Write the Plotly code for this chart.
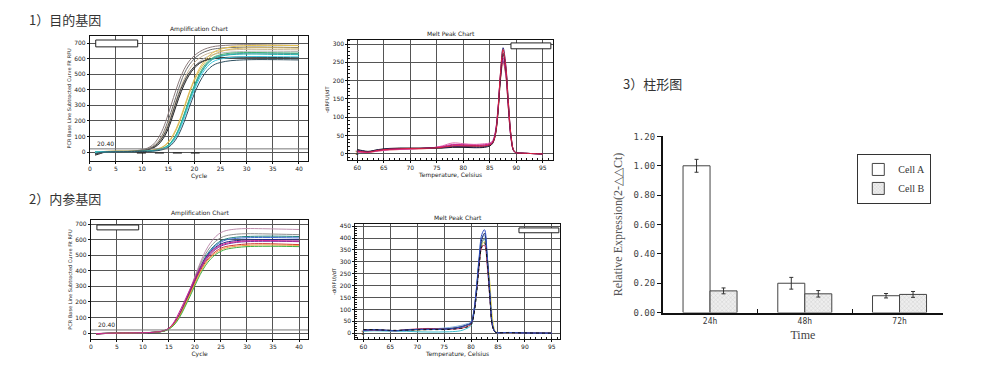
import plotly.graph_objects as go

# ---------------- data ----------------
# Panel 1: target gene amplification (cycle vs RFU)
AMP1_CYCLES = [1, 2, 3, 5, 8, 10, 11, 12, 13, 14, 15, 16, 17, 18, 19, 20, 21, 22, 23, 24, 26, 28, 31, 35, 40]
AMP1_GREY_A = [-5, 0, 3, 5, 6, 15, 25, 45, 85, 150, 245, 350, 450, 530, 585, 620, 645, 662, 673, 680, 686, 689, 690, 688, 686]
AMP1_GREY_B = [-8, -2, 2, 4, 5, 12, 20, 35, 65, 120, 205, 305, 410, 500, 560, 600, 628, 645, 657, 664, 670, 673, 675, 674, 672]
AMP1_BLACK_A = [-20, -10, 0, 3, 4, 8, 14, 25, 45, 85, 150, 245, 345, 430, 495, 540, 570, 588, 598, 603, 608, 610, 610, 608, 606]
AMP1_BLACK_B = [-15, -5, 2, 3, 4, 9, 16, 30, 55, 100, 170, 270, 370, 450, 510, 550, 575, 590, 597, 601, 604, 605, 605, 603, 600]
AMP1_YELLOW_A = [0, 2, 4, 5, 5, 6, 8, 12, 20, 35, 65, 115, 190, 285, 385, 470, 540, 590, 625, 648, 670, 680, 685, 686, 684]
AMP1_YELLOW_B = [0, 2, 4, 5, 5, 6, 8, 12, 20, 33, 60, 108, 180, 275, 375, 460, 525, 575, 610, 632, 655, 665, 670, 670, 668]
AMP1_TAN = [0, 2, 3, 5, 6, 10, 18, 32, 60, 110, 185, 280, 380, 465, 530, 575, 605, 625, 638, 646, 654, 658, 660, 659, 657]
AMP1_LIGHT = [0, 1, 2, 4, 5, 8, 14, 25, 48, 90, 160, 255, 355, 440, 505, 550, 582, 605, 620, 630, 640, 645, 648, 648, 646]
AMP1_GREEN = [0, 1, 3, 4, 4, 5, 6, 9, 14, 25, 45, 85, 150, 240, 340, 430, 505, 560, 595, 615, 632, 638, 640, 638, 636]
AMP1_TEAL = [0, 1, 2, 3, 3, 4, 5, 8, 12, 22, 40, 78, 140, 228, 325, 415, 490, 545, 583, 605, 622, 628, 630, 628, 626]
AMP1_CYAN = [0, 1, 2, 3, 3, 4, 5, 7, 11, 20, 37, 72, 130, 215, 310, 400, 475, 530, 567, 588, 604, 611, 614, 613, 612]
AMP1_STEEL = [0, 1, 2, 3, 4, 5, 6, 8, 13, 24, 43, 82, 145, 235, 330, 420, 495, 550, 588, 610, 625, 632, 636, 635, 633]
AMP1_SLATE = [-10, -3, 1, 2, 3, 3, 4, 6, 9, 16, 30, 60, 112, 190, 285, 375, 450, 505, 543, 565, 583, 590, 594, 594, 592]
AMP1_NTC_X = [9, 21]
AMP1_NTC_Y = [-6, -6]

# Panel 2: target gene melt peak
MELT1_T = [60, 61, 62, 64, 66, 68, 70, 72, 74, 76, 78, 80, 82, 84, 85, 85.5, 86, 86.5, 87, 87.5, 88, 88.5, 89, 89.5, 90, 91, 93, 95]
MELT1_RED = [8, 6, 5, 10, 13, 14, 15, 15, 16, 18, 22, 22, 22, 22, 25, 30, 50, 110, 220, 285, 240, 140, 50, 10, 3, 2, 1, 0]
MELT1_PINK = [5, 4, 4, 8, 11, 12, 13, 14, 16, 22, 30, 28, 26, 28, 30, 36, 58, 120, 215, 270, 230, 130, 45, 8, 3, 2, 1, 0]
MELT1_MAGENTA = [6, 5, 5, 9, 12, 13, 14, 15, 17, 20, 26, 25, 24, 25, 28, 33, 55, 115, 210, 262, 225, 128, 44, 9, 3, 2, 1, 0]
MELT1_BLACK = [12, 9, 7, 12, 15, 16, 16, 16, 16, 16, 18, 18, 17, 18, 22, 28, 48, 105, 205, 275, 235, 135, 48, 9, 3, 2, 1, 0]
MELT1_NAVY = [10, 8, 6, 11, 14, 15, 15, 15, 16, 17, 20, 20, 19, 20, 24, 30, 52, 112, 218, 290, 245, 142, 50, 10, 3, 2, 1, 0]
MELT1_PURPLE = [7, 6, 5, 9, 12, 13, 14, 15, 17, 19, 24, 24, 23, 24, 27, 32, 54, 112, 208, 255, 220, 125, 42, 8, 3, 2, 1, 0]
MELT1_ORANGE = [6, 5, 4, 8, 11, 12, 13, 14, 15, 17, 21, 21, 20, 21, 24, 30, 50, 108, 200, 250, 215, 122, 42, 8, 3, 2, 1, 0]

# Panel 3: reference gene amplification
AMP2_CYCLES = [1, 3, 5, 8, 10, 12, 13, 14, 15, 16, 17, 18, 19, 20, 21, 22, 23, 24, 25, 26, 28, 30, 33, 36, 40]
AMP2_MAUVE = [-5, -2, 0, 2, 3, 5, 8, 14, 30, 65, 120, 195, 275, 365, 450, 525, 580, 620, 645, 658, 668, 671, 670, 668, 665]
AMP2_GREY = [-5, -2, 0, 2, 3, 5, 8, 14, 29, 63, 118, 190, 268, 355, 438, 505, 555, 590, 612, 625, 635, 638, 637, 635, 632]
AMP2_TEAL = [-4, -1, 0, 2, 3, 5, 8, 14, 28, 60, 112, 182, 258, 340, 420, 488, 535, 570, 592, 605, 616, 620, 622, 622, 620]
AMP2_BLUE = [-4, -1, 0, 2, 3, 5, 8, 14, 28, 60, 110, 180, 255, 335, 415, 480, 528, 562, 584, 598, 608, 612, 614, 613, 611]
AMP2_NAVY = [-6, -2, 0, 2, 3, 5, 8, 14, 28, 62, 115, 186, 262, 342, 418, 478, 522, 552, 572, 584, 594, 598, 600, 600, 598]
AMP2_MAGENTA = [-3, -1, 0, 2, 3, 5, 9, 16, 32, 72, 135, 205, 278, 352, 420, 475, 515, 545, 564, 576, 587, 592, 594, 593, 590]
AMP2_PURPLE = [-4, -1, 0, 2, 3, 5, 8, 14, 29, 64, 120, 190, 262, 338, 408, 465, 508, 538, 558, 570, 582, 587, 589, 589, 587]
AMP2_RED = [-6, -2, 0, 2, 3, 5, 8, 14, 28, 60, 112, 180, 252, 328, 398, 455, 495, 525, 545, 556, 566, 572, 574, 572, 568]
AMP2_ORANGE = [-3, -1, 0, 2, 3, 5, 8, 13, 27, 57, 106, 172, 244, 318, 388, 445, 487, 515, 535, 547, 558, 563, 566, 565, 563]
AMP2_GREEN = [-4, -1, 0, 2, 3, 5, 7, 12, 25, 52, 98, 162, 232, 305, 375, 432, 475, 505, 525, 538, 549, 555, 557, 557, 555]

# Panel 4: reference gene melt peak
MELT2_T = [60, 62, 64, 66, 68, 70, 72, 74, 76, 78, 79, 80, 80.5, 81, 81.5, 82, 82.5, 83, 83.5, 84, 84.5, 85, 87, 90, 95]
MELT2_BLUE = [12, 14, 12, 10, 13, 15, 15, 16, 18, 25, 32, 45, 90, 190, 320, 415, 435, 330, 170, 35, 5, 2, 3, 1, 0]
MELT2_NAVY = [14, 15, 13, 11, 14, 16, 17, 17, 19, 26, 33, 42, 85, 180, 305, 395, 420, 320, 160, 30, 4, 2, 3, 1, 0]
MELT2_LIGHTBLUE = [10, 12, 11, 10, 14, 16, 18, 20, 24, 32, 38, 48, 92, 185, 310, 400, 410, 300, 150, 28, 4, 2, 2, 1, 0]
MELT2_CYAN = [8, 10, 9, 8, 8, 6, 5, 5, 6, 10, 18, 32, 75, 165, 290, 380, 395, 300, 155, 30, 4, 2, 2, 1, 0]
MELT2_YELLOW = [10, 12, 11, 10, 12, 14, 15, 16, 18, 24, 30, 40, 80, 170, 290, 370, 385, 320, 210, 60, 8, 2, 2, 1, 0]
MELT2_GREY = [13, 14, 12, 11, 13, 15, 16, 17, 20, 27, 33, 44, 88, 182, 300, 380, 400, 305, 155, 30, 4, 2, 2, 1, 0]
MELT2_RED = [11, 13, 12, 10, 15, 18, 20, 18, 17, 20, 26, 38, 80, 170, 285, 360, 370, 285, 145, 27, 4, 2, 2, 1, 0]
MELT2_BLACK = [15, 15, 13, 12, 13, 14, 15, 15, 16, 20, 24, 35, 75, 160, 280, 365, 380, 300, 150, 28, 4, 2, 2, 1, 0]

# Panel 5: bar chart
BAR_CATEGORIES = ["24h", "48h", "72h"]
CELL_A = [1.00, 0.20, 0.115]
CELL_A_ERR = [0.044, 0.04, 0.015]
CELL_B = [0.148, 0.128, 0.124]
CELL_B_ERR = [0.02, 0.022, 0.02]
BAR_YTICKS = [0.0, 0.2, 0.4, 0.6, 0.8, 1.0, 1.2]
BAR_YTICK_LABELS = ["0.00", "0.20", "0.40", "0.60", "0.80", "1.00", "1.20"]

THRESHOLD = 20.40

# ---------------- figure ----------------
W, H = 1000, 377
fig = go.Figure()

def xd(a, b):
    return [a / W, b / W]

def yd(top, bottom):
    return [1 - bottom / H, 1 - top / H]

amp1 = [
    (AMP1_GREY_A, "#8c7b7b"), (AMP1_GREY_B, "#6e6e6e"), (AMP1_TAN, "#cbb89a"),
    (AMP1_LIGHT, "#b8b8b8"), (AMP1_YELLOW_A, "#e8c34a"), (AMP1_YELLOW_B, "#d4b35a"),
    (AMP1_BLACK_A, "#222222"), (AMP1_BLACK_B, "#444444"), (AMP1_STEEL, "#6a8caf"),
    (AMP1_GREEN, "#3cb371"), (AMP1_TEAL, "#20b2aa"), (AMP1_CYAN, "#40c8e0"),
    (AMP1_SLATE, "#2f4f5f"),
]
for vals, col in amp1:
    fig.add_trace(go.Scatter(x=AMP1_CYCLES, y=vals, mode="lines", line=dict(color=col, width=1, shape="spline"),
                             xaxis="x", yaxis="y", showlegend=False, hoverinfo="skip"))
fig.add_trace(go.Scatter(x=AMP1_NTC_X, y=AMP1_NTC_Y, mode="lines", line=dict(color="#111", width=1.2, dash="dash"),
                         xaxis="x", yaxis="y", showlegend=False))

melt1 = [
    (MELT1_ORANGE, "#e08040"), (MELT1_PURPLE, "#7030a0"), (MELT1_PINK, "#e070b0"),
    (MELT1_MAGENTA, "#d02090"), (MELT1_BLACK, "#111111"), (MELT1_NAVY, "#202070"),
    (MELT1_RED, "#e02040"),
]
for vals, col in melt1:
    fig.add_trace(go.Scatter(x=MELT1_T, y=vals, mode="lines", line=dict(color=col, width=1, shape="spline"),
                             xaxis="x2", yaxis="y2", showlegend=False))

amp2 = [
    (AMP2_MAUVE, "#c090b0"), (AMP2_GREY, "#909090"), (AMP2_TEAL, "#208080"),
    (AMP2_BLUE, "#4070d0"), (AMP2_NAVY, "#202080"), (AMP2_PURPLE, "#7030a0"),
    (AMP2_RED, "#d03030"), (AMP2_ORANGE, "#f0a040"), (AMP2_GREEN, "#40b040"),
    (AMP2_MAGENTA, "#d02090"),
]
for vals, col in amp2:
    fig.add_trace(go.Scatter(x=AMP2_CYCLES, y=vals, mode="lines", line=dict(color=col, width=1, shape="spline"),
                             xaxis="x3", yaxis="y3", showlegend=False))

melt2 = [
    (MELT2_YELLOW, "#e0d040"), (MELT2_CYAN, "#40c0d0"), (MELT2_LIGHTBLUE, "#80b0e0"),
    (MELT2_GREY, "#808080"), (MELT2_RED, "#c03060"), (MELT2_NAVY, "#102060"),
    (MELT2_BLUE, "#3050c0"),
]
for vals, col in melt2:
    fig.add_trace(go.Scatter(x=MELT2_T, y=vals, mode="lines", line=dict(color=col, width=1, shape="spline"),
                             xaxis="x4", yaxis="y4", showlegend=False))
fig.add_trace(go.Scatter(x=MELT2_T, y=MELT2_BLACK, mode="lines", line=dict(color="#111", width=1, dash="dot", shape="spline"),
                         xaxis="x4", yaxis="y4", showlegend=False))

# threshold lines
for xa, ya in (("x", "y"), ("x3", "y3")):
    fig.add_trace(go.Scatter(x=[0, 41.8], y=[THRESHOLD, THRESHOLD], mode="lines", line=dict(color="#777", width=1),
                             xaxis=xa, yaxis=ya, showlegend=False))

# bars
fig.add_trace(go.Bar(x=BAR_CATEGORIES, y=CELL_A, name="Cell A", xaxis="x5", yaxis="y5",
                     marker=dict(color="white", line=dict(color="#444", width=1)),
                     error_y=dict(type="data", array=CELL_A_ERR, color="#333", thickness=1, width=2)))
fig.add_trace(go.Bar(x=BAR_CATEGORIES, y=CELL_B, name="Cell B", xaxis="x5", yaxis="y5",
                     marker=dict(color="#e6e6e6", line=dict(color="#444", width=1),
                                 pattern=dict(shape="x", size=3, solidity=0.3, fgcolor="#b0b0b0", bgcolor="#eeeeee")),
                     error_y=dict(type="data", array=CELL_B_ERR, color="#333", thickness=1, width=2)))

small = dict(family="DejaVu Sans", size=6, color="#222")
grid_common = dict(showgrid=True, gridcolor="#555", gridwidth=1, showline=True, linecolor="#111", linewidth=1,
                   mirror=True, ticks="outside", ticklen=2, tickcolor="#111", tickfont=small, zeroline=False)

layout = dict(
    width=W, height=H, margin=dict(l=0, r=0, t=0, b=0),
    paper_bgcolor="white", plot_bgcolor="white",
    barmode="group", bargap=0.43, bargroupgap=0,
    xaxis=dict(domain=xd(88, 307), range=[0, 41.8], dtick=5, anchor="y", **grid_common,
               title=dict(text="Cycle", font=small, standoff=1)),
    yaxis=dict(domain=yd(32, 160), range=[-56, 745], dtick=100, anchor="x", **grid_common,
               title=dict(text="PCR Base Line Subtracted Curve Fit RFU", font=dict(family="DejaVu Sans", size=5, color="#222"), standoff=2)),
    xaxis2=dict(domain=xd(347, 552), range=[58.3, 96.9], tick0=60, dtick=5, anchor="y2", **grid_common,
                minor=dict(ticks="inside", ticklen=2, dtick=1, tickcolor="#111", showgrid=False),
                title=dict(text="Temperature, Celsius", font=small, standoff=1)),
    yaxis2=dict(domain=yd(36, 159), range=[-16, 311], dtick=50, anchor="x2", **grid_common,
                minor=dict(ticks="inside", ticklen=2, dtick=10, tickcolor="#111", showgrid=False),
                title=dict(text="-d(RFU)/dT", font=dict(family="DejaVu Sans", size=5, color="#222"), standoff=2)),
    xaxis3=dict(domain=xd(89, 307), range=[0, 41.8], dtick=5, anchor="y3", **grid_common,
                title=dict(text="Cycle", font=small, standoff=1)),
    yaxis3=dict(domain=yd(221, 343), range=[-37, 725], dtick=100, anchor="x3", **grid_common,
                title=dict(text="PCR Base Line Subtracted Curve Fit RFU", font=dict(family="DejaVu Sans", size=5, color="#222"), standoff=2)),
    xaxis4=dict(domain=xd(354, 559), range=[58.5, 96.5], tick0=60, dtick=5, anchor="y4", **grid_common,
                minor=dict(ticks="inside", ticklen=2, dtick=1, tickcolor="#111", showgrid=False),
                title=dict(text="Temperature, Celsius", font=small, standoff=1)),
    yaxis4=dict(domain=yd(225, 343), range=[-24, 459], dtick=50, anchor="x4", **grid_common,
                minor=dict(ticks="inside", ticklen=2, dtick=10, tickcolor="#111", showgrid=False),
                title=dict(text="-d(RFU)/dT", font=dict(family="DejaVu Sans", size=5, color="#222"), standoff=2)),
    xaxis5=dict(domain=xd(662, 943), range=[-0.5, 2.46], anchor="y5", type="category",
                showline=True, linecolor="#111", linewidth=1.5, ticks="inside", tickson="boundaries", ticklen=4,
                tickcolor="#111", showgrid=False,
                tickfont=dict(family="DejaVu Sans Mono", size=8, color="#333"),
                title=dict(text="Time", font=dict(family="Liberation Serif", size=12, color="#444"), standoff=6)),
    yaxis5=dict(domain=yd(135, 316), range=[0, 1.2], anchor="x5", tickvals=BAR_YTICKS, ticktext=BAR_YTICK_LABELS,
                showline=True, linecolor="#111", linewidth=1.5, ticks="outside", ticklen=4, tickcolor="#111",
                showgrid=False, zeroline=False,
                tickfont=dict(family="DejaVu Sans Mono", size=9, color="#444"),
                title=dict(text="Relative Expression(2-△△Ct)", font=dict(family="Liberation Serif", size=12, color="#555"), standoff=8)),
    legend=dict(x=857 / W, y=1 - 153 / H, xanchor="left", yanchor="top", bordercolor="#333", borderwidth=1,
                bgcolor="white", font=dict(family="Liberation Serif", size=10, color="#333"),
                itemwidth=30, tracegroupgap=0),
)
fig.update_layout(**layout)

ann = []
for xa, ya, txt in (("x", "y", "Amplification Chart"), ("x2", "y2", "Melt Peak Chart"),
                    ("x3", "y3", "Amplification Chart"), ("x4", "y4", "Melt Peak Chart")):
    ann.append(dict(xref=xa + " domain", yref=ya + " domain", x=0.5, y=1.01, text=txt, showarrow=False,
                    font=small, xanchor="center", yanchor="bottom"))
for xa, ya in (("x", "y"), ("x3", "y3")):
    ann.append(dict(xref=xa, yref=ya, x=1.0, y=THRESHOLD, text="20.40", showarrow=False, font=small,
                    xanchor="left", yanchor="bottom"))
for xa, ya in (("x2", "y2"), ("x4", "y4")):
    ann.append(dict(xref=xa, yref=ya, x=59.2, y=5, text="1", showarrow=False, font=small,
                    xanchor="left", yanchor="middle"))
head = dict(family="Noto Sans CJK SC", size=13, color="#333")
ann.append(dict(xref="paper", yref="paper", x=25 / W, y=1 - 15 / H, text="1）目的基因", showarrow=False, font=head,
                xanchor="left", yanchor="middle"))
ann.append(dict(xref="paper", yref="paper", x=25 / W, y=1 - 199 / H, text="2）内参基因", showarrow=False, font=head,
                xanchor="left", yanchor="middle"))
ann.append(dict(xref="paper", yref="paper", x=620 / W, y=1 - 81 / H, text="3）柱形图", showarrow=False, font=head,
                xanchor="left", yanchor="middle"))
fig.update_layout(annotations=ann)

# empty legend boxes of the instrument charts
shapes = []
for xa, ya, x0, x1, y0, y1 in (("x", "y", 0.027, 0.219, 0.914, 0.969),
                               ("x2", "y2", 0.795, 0.990, 0.927, 0.976),
                               ("x3", "y3", 0.028, 0.220, 0.918, 0.959),
                               ("x4", "y4", 0.800, 0.995, 0.924, 0.966)):
    shapes.append(dict(type="rect", xref=xa + " domain", yref=ya + " domain", x0=x0, x1=x1, y0=y0, y1=y1,
                       line=dict(color="#222", width=1), fillcolor="white"))
fig.update_layout(shapes=shapes)

# remove the browser's default 8px page margin so the figure sits at (0, 0); hide the modebar
fig.write_html("out.html", config={"displayModeBar": False},
               post_script="document.body.style.margin='0';document.body.style.overflow='hidden';")
